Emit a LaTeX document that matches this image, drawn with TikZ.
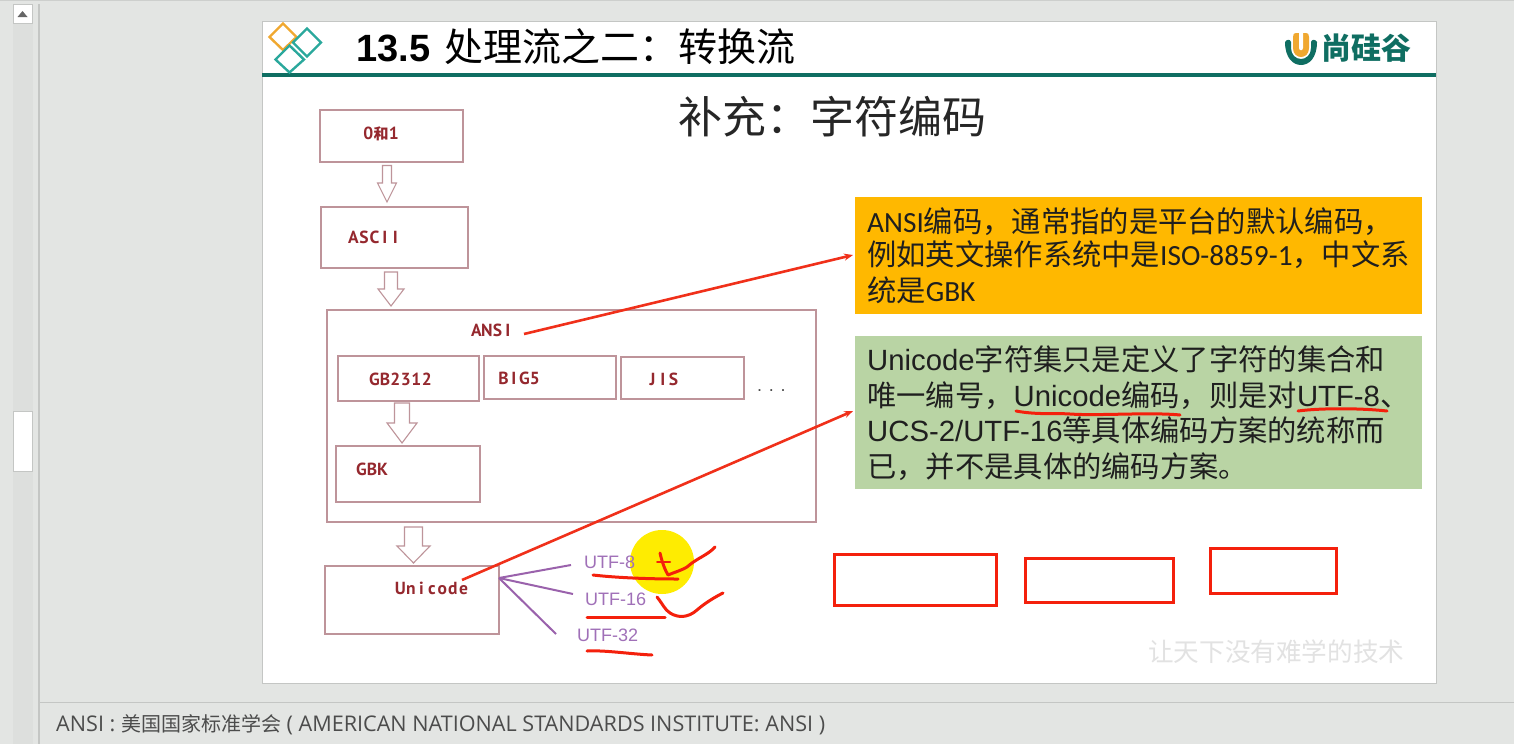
\documentclass[tikz,border=0pt]{standalone}
\usepackage{fontspec}
\setmainfont{Liberation Sans}
\newfontfamily\cjk{Noto Sans CJK SC}
\newfontfamily\carlito{Carlito}
\newfontfamily\opensans{Open Sans}
\newfontfamily\ptsans{PT Sans}
\usetikzlibrary{arrows.meta}
\newcommand{\C}[1]{{\cjk #1}}
\def\monoloop#1{\ifx#1\relax\else\makebox[10.5pt]{#1}\expandafter\monoloop\fi}
\newcommand{\mono}[1]{\monoloop#1\relax}
\definecolor{pagebg}{HTML}{E3E5E3}
\definecolor{barbg}{HTML}{DDDFDD}
\definecolor{edgegray}{HTML}{C4C6C4}
\definecolor{teal1}{HTML}{0F6E62}
\definecolor{teal2}{HTML}{2AA89C}
\definecolor{gold}{HTML}{F0A830}
\definecolor{rosebox}{HTML}{BE949A}
\definecolor{brown}{HTML}{95282E}
\definecolor{plum}{HTML}{A070B8}
\definecolor{plumline}{HTML}{9A62AC}
\definecolor{orangebox}{HTML}{FFB800}
\definecolor{greenbox}{HTML}{B9D4A4}
\definecolor{redline}{HTML}{F0301A}
\definecolor{inkred}{HTML}{F4200C}
\definecolor{wm}{HTML}{E2E2E2}
\newcommand{\blockarrow}[6]{% cx, top, neck, tip, half shaft, half head
  \draw[arrowline] (#1-#5,#2) -- (#1+#5,#2) -- (#1+#5,#3) -- (#1+#6,#3) -- (#1,#4) -- (#1-#6,#3) -- (#1-#5,#3) -- cycle;}
\tikzset{
  box/.style={draw=rosebox,line width=1.1pt,fill=white,inner sep=0pt,outer sep=0pt,anchor=north west},
  arrowline/.style={draw=rosebox,line width=1.1pt,fill=white},
  code/.style={font=\ptsans\bfseries\fontsize{17.5}{17.5}\selectfont,text=brown,inner sep=0pt,anchor=base west},
  utf/.style={font=\fontsize{18}{18}\selectfont,text=plum,inner sep=0pt,anchor=base west},
  para/.style={font=\fontsize{29.3}{29.3}\selectfont,text=black!88,inner sep=0pt,anchor=base west},
  parb/.style={para,font=\carlito\fontsize{29.3}{29.3}\selectfont},
  callout/.style={draw=redline,line width=2.6pt,-{Stealth[length=9pt,width=7pt]}},
  branch/.style={draw=plumline,line width=2pt},
  ink/.style={draw=inkred,line width=3pt,line cap=round,line join=round},
  redrect/.style={draw=inkred,line width=3pt,fill=none,inner sep=0pt,outer sep=0pt,anchor=north west},
  diam/.style={line width=2.4pt,fill=none},
}
\begin{document}
\begin{tikzpicture}[x=1pt,y=-1pt]
\useasboundingbox (0,0) rectangle (1514,744);
\fill[pagebg] (0,0) rectangle (1514,744);
\fill[edgegray!70!pagebg] (0,0) rectangle (1514,1);
% scrollbar
\fill[barbg] (13,4) rectangle (33,744);
\draw[edgegray,line width=1.5pt] (39,4) -- (39,744);
\draw[edgegray,line width=1pt,fill=white] (13,4) rectangle (32,23);
\fill[gray!80!black] (17.5,17) -- (27.5,17) -- (22.5,11) -- cycle;
\draw[edgegray,line width=1pt,fill=white] (13,411) rectangle (32,471);
% notes pane
\draw[edgegray,line width=1pt] (39,702) -- (1514,702);
\node[inner sep=0pt,anchor=base west,text=black!70,font=\opensans\fontsize{21.6}{21.6}\selectfont] (notes) at (56,731.5)
  {ANSI : {\cjk\fontsize{20}{20}\selectfont 美国国家标准学会} ( AMERICAN NATIONAL STANDARDS INSTITUTE: ANSI )};
% slide
\draw[edgegray,line width=1pt,fill=white] (262,21) rectangle (1436,683);
\fill[teal1] (262,73) rectangle (1436,77);
% logo
\draw[diam,draw=gold] (283,23.5) -- (296.5,37) -- (283,50) -- (269.5,37) -- cycle;
\draw[diam,draw=teal2] (307,28.5) -- (321,42.5) -- (307,56.5) -- (293,42.5) -- cycle;
\draw[diam,draw=teal2] (289.5,45.5) -- (304,59.5) -- (289.5,72.5) -- (275.5,59.5) -- cycle;
% title
\node[inner sep=0pt,anchor=base west,font=\bfseries\fontsize{38}{38}\selectfont] (titlenum) at (356,61) {13.5};
\node[inner sep=0pt,anchor=base west,font=\cjk\fontsize{39}{39}\selectfont] (titlecn) at (444,61) {处理流之二：转换流};
% brand
\fill[teal1] (1285,42) .. controls (1285,58) and (1293,65) .. (1301,65) .. controls (1309,65) and (1317,58) .. (1317,42) .. controls (1315,39) and (1312,39) .. (1311,42) -- (1311,48) .. controls (1311,55) and (1306,59) .. (1301,59) .. controls (1296,59) and (1291,55) .. (1291,48) -- (1291,42) .. controls (1290,39) and (1287,39) .. (1285,42) -- cycle;
\fill[gold] (1293,37) .. controls (1293,34) and (1294,33) .. (1296,33) -- (1306,33) .. controls (1308,33) and (1309,34) .. (1309,37) -- (1309,48) .. controls (1309,54) and (1305,57) .. (1301,57) .. controls (1297,57) and (1293,54) .. (1293,48) -- cycle;
\fill[white] (1299,33) -- (1303,33) -- (1303,48) .. controls (1303,51) and (1299,51) .. (1299,48) -- cycle;
\node[inner sep=0pt,anchor=base west,text=teal1,font=\cjk\bfseries\fontsize{30}{30}\selectfont] (brand) at (1321,59) {尚硅谷};
% subtitle
\node[inner sep=0pt,anchor=base west,font=\cjk\fontsize{44}{44}\selectfont,text=black!85] (sub) at (678,133) {补充：字符编码};
% block arrows
\blockarrow{387}{165.5}{183}{202}{4.5}{9.5}
\blockarrow{391}{272}{289}{306}{6.5}{13}
\blockarrow{413.5}{527}{546}{563}{9}{16.5}
% boxes
\node[box,minimum width=143pt,minimum height=52pt] (b01) at (320,110) {};
\node[code] at (363,139.5) {\mono{0}{\cjk\bfseries\fontsize{15}{15}\selectfont 和}\mono{1}};
\node[box,minimum width=147pt,minimum height=61pt] (bascii) at (321,207) {};
\node[code] at (348,243.5) {\mono{ASCII}};
\node[box,minimum width=489pt,minimum height=212pt] (bansi) at (327,310) {};
\node[code] (tansi) at (471,336.5) {\mono{ANSI}};
\node[box,minimum width=141pt,minimum height=45pt] (bgb) at (338,356) {};
\node[code] at (369,385.5) {\mono{GB2312}};
\node[box,minimum width=132pt,minimum height=43pt] (bbig) at (484,356) {};
\node[code] at (498,384.5) {\mono{BIG5}};
\node[box,minimum width=123pt,minimum height=42pt] (bjis) at (621,357) {};
\node[code] at (647,385.5) {\mono{JIS}};
\node[inner sep=0pt,anchor=base west,font=\fontsize{18}{18}\selectfont,text=black!70] (dots) at (757,391) {. . .};
\blockarrow{402}{403}{423}{443}{7.5}{15}
\node[box,minimum width=144pt,minimum height=56pt] (bgbk) at (336,446) {};
\node[code] at (356,475.5) {\mono{GBK}};
\node[box,minimum width=174pt,minimum height=68pt] (buni) at (325,566) {};
\node[code] (tuni) at (395,594.5) {\mono{Unicode}};
% yellow pointer
\fill[yellow!94!orange] (662,562) circle (32);
% UTF
\node[utf] (u8) at (584,568) {UTF-8};
\node[utf] (u16) at (585,605) {UTF-16};
\node[utf] (u32) at (577,641) {UTF-32};
\coordinate (uo) at (499,578);
\coordinate (e8) at (571,565);
\coordinate (e16) at (573,594);
\coordinate (e32) at (556,634);
\draw[branch] (uo) -- (e8);
\draw[branch] (uo) -- (e16);
\draw[branch] (uo) -- (e32);
% orange callout
\node[fill=orangebox,minimum width=567pt,minimum height=117pt,inner sep=0pt,outer sep=0pt,anchor=north west] (orange) at (855,197) {};
\node[parb] at (867,232) {ANSI\C{编码，通常指的是平台的默认编码，}};
\node[parb] at (867,265) {\C{例如英文操作系统中是}ISO-8859-1\C{，中文系}};
\node[parb] at (867,301) {\C{统是}GBK};
% green callout
\node[fill=greenbox,minimum width=567pt,minimum height=153pt,inner sep=0pt,outer sep=0pt,anchor=north west] (green) at (855,336) {};
\node[para] at (867,370) {Unicode\C{字符集只是定义了字符的集合和}};
\node[para] at (867,406) {\C{唯一编号，}Unicode\C{编码，则是对}UTF-8\C{、}};
\node[para] at (867,441) {UCS-2/UTF-16\C{等具体编码方案的统称而}};
\node[para] at (867,477) {\C{已，并不是具体的编码方案。}};
% red connectors
\coordinate (aoA) at (524,334);
\coordinate (aoB) at (853,255);
\coordinate (unA) at (462,580);
\coordinate (unB) at (853,411);
\draw[callout] (aoA) -- (aoB);
\draw[callout] (unA) -- (unB);
% red annotation rectangles
\node[redrect,minimum width=162pt,minimum height=51pt] (r1) at (834.5,554.5) {};
\node[redrect,minimum width=148pt,minimum height=44pt] (r2) at (1025.5,558.5) {};
\node[redrect,minimum width=126pt,minimum height=45pt] (r3) at (1210.5,548.5) {};
% handwriting
\draw[ink] (1016,411) .. controls (1037,415) and (1057,413) .. (1070,414) .. controls (1098,416) and (1150,412) .. (1180,415);
\draw[ink] (1298,411) .. controls (1320,408) and (1360,408) .. (1387,411);
\draw[ink] (593,575) .. controls (610,577) and (640,579) .. (678,579);
\draw[ink] (660,553) .. controls (662,562) and (665,570) .. (668,575) .. controls (675,572) and (680,571) .. (687,567) .. controls (697,558) and (708,555) .. (715,547);
\draw[ink,line width=2pt] (657,562) -- (670,562);
\draw[ink] (587,617) -- (665,617);
\draw[ink] (657,597) .. controls (662,603) and (665,610) .. (670,613) .. controls (678,618) and (688,618) .. (697,610) .. controls (705,603) and (715,597) .. (723,593);
\draw[ink] (587,651) .. controls (605,650) and (630,654) .. (652,655);
% watermark
\node[inner sep=0pt,anchor=base west,text=wm,font=\cjk\fontsize{25.6}{25.6}\selectfont] (mark) at (1148,661) {让天下没有难学的技术};
\end{tikzpicture}
\end{document}
